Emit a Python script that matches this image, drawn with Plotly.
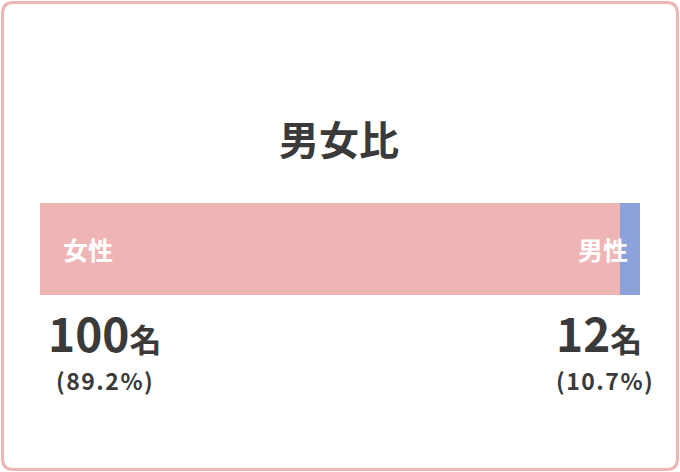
import plotly.graph_objects as go

W, H = 680, 472

TITLE = "男女比"
categories = ["女性", "男性"]
counts = [100, 12]
pct_labels = ["89.2%", "10.7%"]
# bar segment lengths as drawn in the picture (percent of bar width)
bar_share = [96.7, 3.3]
colors = ["#EFB5B5", "#8BA3DA"]

PINK = "#EFB5B5"
TEXT = "#3A3A3A"
FONT = "Noto Sans CJK JP"


def px(x):
    return x / W


def py(y):
    return 1 - y / H


def label(fig, text, x, y, size, color=TEXT, anchor="center"):
    fig.add_annotation(text=text, x=px(x), y=py(y), xref="paper", yref="paper",
                       xanchor=anchor, yanchor="middle", showarrow=False,
                       font=dict(size=size, color=color))


def main() -> None:
    fig = go.Figure()
    for cat, share, col in zip(categories, bar_share, colors):
        fig.add_trace(
            go.Bar(
                x=[share],
                y=[""],
                orientation="h",
                name=cat,
                marker=dict(color=col, line=dict(width=0)),
                width=1,
                hoverinfo="skip",
            )
        )

    fig.update_layout(
        width=W,
        height=H,
        margin=dict(l=0, r=0, t=0, b=0),
        barmode="stack",
        showlegend=False,
        paper_bgcolor="white",
        plot_bgcolor="rgba(0,0,0,0)",
        font=dict(family=FONT, color=TEXT),
        xaxis=dict(range=[0, 100], domain=[px(40), px(640)], visible=False, fixedrange=True),
        yaxis=dict(range=[-0.5, 0.5], domain=[py(295), py(203)], visible=False, fixedrange=True),
    )

    # rounded card border
    x0, x1, y0, y1 = px(2.5), px(677.5), py(469.5), py(2.5)
    rx, ry = 11 / W, 11 / H
    path = (
        f"M {x0 + rx},{y1} L {x1 - rx},{y1} Q {x1},{y1} {x1},{y1 - ry} "
        f"L {x1},{y0 + ry} Q {x1},{y0} {x1 - rx},{y0} "
        f"L {x0 + rx},{y0} Q {x0},{y0} {x0},{y0 + ry} "
        f"L {x0},{y1 - ry} Q {x0},{y1} {x0 + rx},{y1} Z"
    )
    fig.add_shape(type="path", path=path, xref="paper", yref="paper",
                  line=dict(color=PINK, width=3))

    label(fig, f"<b>{TITLE}</b>", 339, 138, 40)

    # labels inside the bar
    label(fig, f"<b>{categories[0]}</b>", 61, 249, 25, "white", "left")
    label(fig, f"<b>{categories[1]}</b>", 630, 249, 25, "white", "right")

    # counts and percentages under the bar
    sides = [("left", 46, 54), ("right", 644, 656)]
    for (anchor, xn, xp), n, pct in zip(sides, counts, pct_labels):
        label(fig, f"<b>{n}<span style='font-size:32px'>名</span></b>", xn, 332, 46,
              anchor=anchor)
        label(fig, f"<b><span style='letter-spacing:1.5px'>({pct})</span></b>", xp, 380, 23,
              anchor=anchor)

    fig.write_html("out.html", config={"displayModeBar": False},
                   post_script="document.body.style.margin='0';")


if __name__ == "__main__":
    main()
